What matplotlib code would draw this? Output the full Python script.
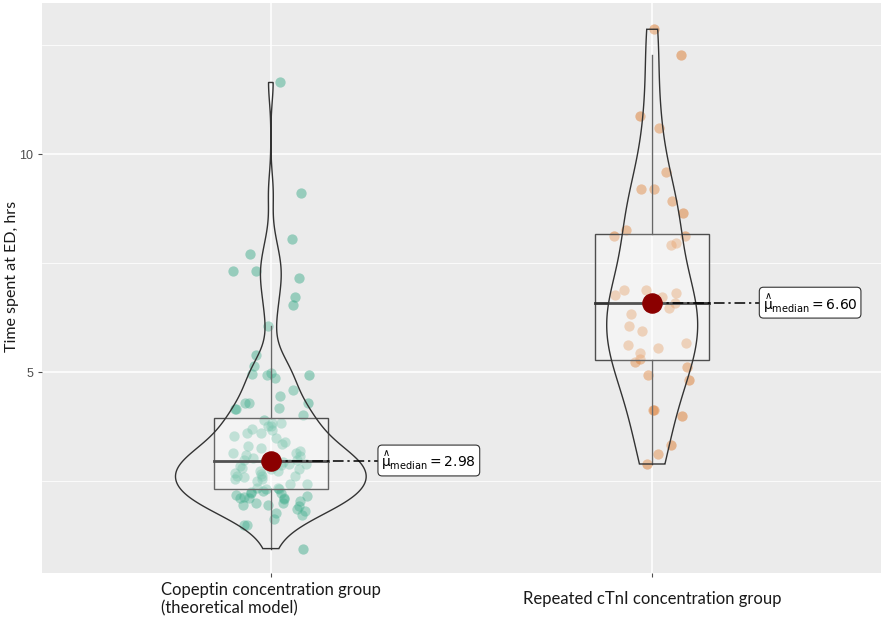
import numpy as np
import matplotlib.pyplot as plt
from matplotlib.patches import Polygon, Rectangle

plt.rcParams["mathtext.fontset"] = "dejavusans"

# Data (hours spent at ED)
groups = ["Copeptin concentration group\n(theoretical model)",
          "Repeated cTnI concentration group"]
copeptin_hrs = [
    11.65, 9.12, 8.05, 7.71, 7.32, 7.17, 7.32, 6.74, 6.54, 6.07, 5.40, 5.14,
    4.96, 4.93, 4.98, 4.88, 4.95, 4.59, 4.47, 4.31, 4.29, 4.30, 4.19, 4.15,
    4.17, 3.67, 3.77, 4.02, 3.85, 3.85, 3.77, 3.71, 3.54, 3.62, 3.40, 3.31,
    3.26, 3.16, 3.16, 3.00, 3.04, 3.08, 3.04, 2.99, 2.87, 2.89, 2.85, 2.85,
    2.78, 2.79, 2.74, 2.74, 2.62, 2.56, 2.51, 2.61, 2.62, 2.62, 2.43, 2.36,
    2.32, 2.24, 2.13, 2.14, 2.32, 2.24, 2.28, 2.13, 2.16, 2.13, 2.09, 2.01,
    1.93, 2.01, 1.97, 1.86, 1.82, 1.74, 1.78, 1.51, 1.51, 0.96, 2.98, 3.10,
    3.20, 3.35, 3.50, 3.60, 3.90, 2.25, 2.18, 2.05, 1.95, 1.65, 2.35, 2.45,
    2.55, 2.66, 2.70, 2.80, 2.90, 2.95, 2.98,
]
ctni_hrs = [
    12.87, 12.27, 10.88, 10.60, 9.59, 9.21, 9.21, 8.92, 8.65, 8.27, 8.14, 8.14,
    7.92, 7.97, 6.88, 6.88, 6.83, 6.77, 6.73, 6.60, 6.60, 6.48, 6.35, 6.06,
    5.96, 5.63, 5.44, 5.67, 5.57, 5.30, 5.23, 5.12, 4.95, 4.82, 4.14, 4.14,
    4.01, 3.34, 3.13, 2.90,
]
series = [np.array(copeptin_hrs), np.array(ctni_hrs)]
colors = ["#1B9E77", "#D95F02"]


def kde_nrd0(y, grid):
    n = len(y)
    iqr = np.subtract(*np.percentile(y, [75, 25]))
    bw = 0.9 * min(np.std(y, ddof=1), iqr / 1.34) * n ** -0.2
    z = (grid[:, None] - y[None, :]) / bw
    return np.exp(-0.5 * z ** 2).sum(axis=1) / (n * bw * np.sqrt(2 * np.pi))


fig = plt.figure(figsize=(8.81, 6.19), dpi=100)
ax = fig.add_axes([0.0477, 0.0743, 0.9523, 0.9207])
ax.set_facecolor("#EBEBEB")
for s in ax.spines.values():
    s.set_visible(False)

ax.set_xlim(0.4, 2.6)
ax.set_ylim(0.4, 13.47)
ax.set_yticks([5, 10])
ax.set_yticks([2.5, 7.5, 12.5], minor=True)
ax.set_xticks([1, 2])
ax.grid(True, which="major", color="white", lw=1.1)
ax.grid(True, which="minor", axis="y", color="white", lw=0.55)
ax.set_axisbelow(True)
ax.tick_params(axis="y", which="minor", length=0)
ax.tick_params(axis="both", which="major", length=3, color="#4D4D4D", width=0.8)
ax.set_yticklabels(["5", "10"], fontsize=9, color="#4D4D4D", family="Liberation Sans")
ax.tick_params(axis="x", pad=16)
ax.set_xticklabels(groups, fontsize=12, family="Lato", color="#1A1A1A",
                   va="center", multialignment="left")
ax.set_ylabel("Time spent at ED, hrs", fontsize=11.5, family="Lato", color="#1A1A1A")
ax.yaxis.set_label_coords(-0.027, 0.52)

rng = np.random.default_rng(7)
grids, dens = [], []
for y in series:
    g = np.linspace(y.min(), y.max(), 512)
    grids.append(g)
    dens.append(kde_nrd0(y, g))
dmax = max(d.max() for d in dens)

for i, y in enumerate(series):
    x0 = i + 1
    # jittered points
    jx = x0 + rng.uniform(-0.1, 0.1, len(y))
    ax.scatter(jx, y, s=55, color=colors[i], alpha=0.4, lw=0, zorder=2)

    # boxplot
    q1, med, q3 = np.percentile(y, [25, 50, 75])
    iqr = q3 - q1
    lo = y[y >= q1 - 1.5 * iqr].min()
    hi = y[y <= q3 + 1.5 * iqr].max()
    bw = 0.15
    ax.add_patch(Rectangle((x0 - bw, q1), 2 * bw, q3 - q1, facecolor="white",
                           alpha=0.3, edgecolor="none", zorder=3))
    ax.add_patch(Rectangle((x0 - bw, q1), 2 * bw, q3 - q1, facecolor="none",
                           edgecolor="#4D4D4D", lw=1.0, zorder=3.1))
    ax.plot([x0, x0], [q3, hi], color="#4D4D4D", lw=1.0, zorder=3.1)
    ax.plot([x0, x0], [lo, q1], color="#4D4D4D", lw=1.0, zorder=3.1)
    ax.plot([x0 - bw, x0 + bw], [med, med], color="#333333", lw=2.0, zorder=3.2)

    # violin
    half = dens[i] / dmax * 0.25
    g = grids[i]
    xs = np.concatenate([x0 - half, (x0 + half)[::-1]])
    ys = np.concatenate([g, g[::-1]])
    ax.add_patch(Polygon(np.column_stack([xs, ys]), closed=True, facecolor="white",
                         alpha=0.15, edgecolor="none", zorder=3.3))
    ax.add_patch(Polygon(np.column_stack([xs, ys]), closed=True, facecolor="none",
                         edgecolor="#333333", lw=1.0, zorder=3.4))

    # median marker and label
    ax.scatter([x0], [med], s=190, color="#8B0000", zorder=5)
    lx = x0 + 0.29
    ax.plot([x0, lx], [med, med], color="black", lw=1.1, ls=(0, (7, 2.5, 1.5, 2.5)), zorder=4.5)
    ax.text(lx, med, r"$\overset{\wedge}{\mathrm{\mu}}_{\mathrm{median}}=%.2f$" % med,
            fontsize=10, ha="left", va="center", zorder=6,
            bbox=dict(boxstyle="round,pad=0.25,rounding_size=0.3", facecolor="white",
                      edgecolor="#333333", lw=0.8))

fig.savefig("out.png", dpi=100)
